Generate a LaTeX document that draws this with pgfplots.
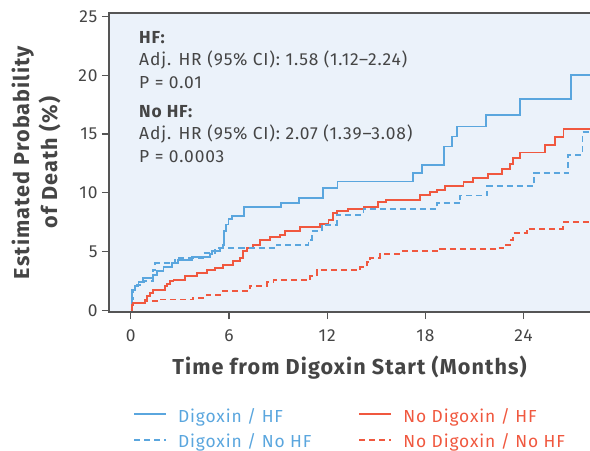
\documentclass[border=0pt]{standalone}
\usepackage{fontspec}
\setmainfont{Fira Sans}[LetterSpace=5]
\usepackage{pgfplots}
\pgfplotsset{compat=1.18}
\definecolor{dblue}{HTML}{5AA6DE}
\definecolor{dred}{HTML}{F0583F}
\definecolor{bgc}{HTML}{EBF2FA}
\definecolor{axc}{HTML}{555555}
\definecolor{txc}{HTML}{454545}
\newcommand\tfs{\fontsize{17.4bp}{20bp}\selectfont}
\newcommand\lfs{\fontsize{21.6bp}{28bp}\selectfont\bfseries}

\pgfplotstableread{
x y
0 0
0.10 1.76
0.26 2.04
0.47 2.38
0.77 2.72
1.38 3.03
1.59 3.31
2.00 3.66
2.50 4.02
2.91 4.31
3.73 4.56
4.85 4.75
4.95 5.05
5.46 5.30
5.66 5.55
5.70 6.75
5.82 7.30
5.97 7.75
6.17 8.05
6.92 8.77
9.16 9.15
10.29 9.55
11.73 10.40
12.63 10.96
17.27 11.67
17.82 12.38
19.14 13.94
19.65 14.79
19.92 15.64
21.69 16.63
23.79 17.96
26.92 20.03
28.2 20.03
}\digHF

\pgfplotstableread{
x y
0 0
0.06 0.48
0.16 0.62
0.88 0.91
0.98 1.19
1.18 1.47
1.38 1.76
2.10 2.04
2.20 2.27
2.40 2.46
2.61 2.61
3.32 2.95
4.03 3.17
4.64 3.46
5.15 3.60
5.66 3.88
6.27 4.16
6.68 4.45
6.88 5.01
7.09 5.30
7.49 5.58
7.90 6.01
8.51 6.23
9.12 6.43
9.43 6.71
10.35 7.05
11.57 7.37
12.08 7.71
12.38 8.27
12.59 8.41
13.30 8.64
14.22 8.78
15.13 9.18
15.60 9.41
17.68 9.83
18.29 10.03
18.70 10.25
19.21 10.59
20.33 10.88
20.90 11.25
21.85 11.61
22.67 12.01
23.18 12.46
23.38 12.95
23.79 13.43
25.32 14.08
25.93 14.73
26.44 15.44
28.2 15.44
}\nodigHF

\pgfplotstableread{
x y
0 0
0.06 0.91
0.16 1.76
0.37 2.18
0.80 2.50
1.34 3.46
1.49 4.02
2.71 4.31
2.81 4.45
4.44 4.87
5.15 5.30
8.92 5.58
10.86 6.01
11.06 6.71
11.67 7.28
12.59 8.13
14.22 8.61
18.70 9.12
20.12 9.77
21.79 10.54
24.64 11.67
26.74 13.23
27.60 15.16
28.2 15.16
}\dignoHF

\pgfplotstableread{
x y
0 0
0.06 0.40
0.16 0.57
0.88 0.76
1.59 0.91
3.83 1.05
4.64 1.33
5.46 1.61
7.09 1.87
7.29 2.10
8.31 2.38
8.72 2.55
10.96 2.89
11.36 3.40
14.01 3.68
14.42 4.08
14.62 4.45
15.23 4.82
16.56 5.01
18.90 5.21
22.36 5.30
22.77 5.58
23.18 6.01
23.38 6.57
24.20 6.94
26.40 7.48
28.2 7.48
}\nodignoHF

\begin{document}
\begin{tikzpicture}
\path[use as bounding box] (-109bp,-139bp) rectangle (481bp,312bp);
\begin{axis}[
  at={(0,0)}, anchor=south west,
  scale only axis, width=481bp, height=299bp,
  xmin=-1.33, xmax=28.06, ymin=-0.15, ymax=25.3,
  axis background/.style={fill=bgc},
  axis line style={draw=none},
  xtick={0,6,12,18,24}, ytick={0,5,10,15,20,25},
  tick align=outside, tick pos=left,
  major tick length=7bp,
  tick style={axc, line width=1.3bp},
  /pgf/number format/assume math mode=true,
  ticklabel style={font=\tfs, text=txc},
  xticklabel style={yshift=-7bp},
  yticklabel style={xshift=-1bp},
  xlabel={Time from Digoxin Start (Months)},
  ylabel={Estimated Probability\\of Death (\%)},
  xlabel style={font=\lfs, text=txc, at={(axis description cs:0.5,-0.2107)}, anchor=base},
  ylabel style={font=\lfs, text=txc, align=center, at={(axis description cs:-0.1518,0.5)}, anchor=center},
  legend columns=2,
  legend cell align=left,
  legend image code/.code={\draw[#1] (0bp,3.5bp) -- (32bp,3.5bp);},
  legend style={at={(axis description cs:0.0437,-0.3177)}, anchor=north west,
    draw=none, fill=none, font=\tfs, row sep=8bp,
    nodes={inner sep=0pt, text height=13bp, text depth=4.5bp},
    /tikz/every odd column/.append style={column sep=11bp},
    /tikz/every even column/.append style={column sep=47bp}},
]
\addplot[dblue, line width=1.9bp, const plot] table {\digHF};
\addlegendentry{\textcolor{dblue}{Digoxin / HF}}
\addplot[dred, line width=1.9bp, const plot] table {\nodigHF};
\addlegendentry{\textcolor{dred}{No Digoxin / HF}}
\addplot[dblue, line width=1.9bp, const plot, dash pattern=on 6bp off 4bp] table {\dignoHF};
\addlegendentry{\textcolor{dblue}{Digoxin / No HF}}
\addplot[dred, line width=1.9bp, const plot, dash pattern=on 6bp off 4bp] table {\nodignoHF};
\addlegendentry{\textcolor{dred}{No Digoxin / No HF}}
\end{axis}
\draw[axc, line width=1.5bp] (481bp,299bp) -- (0,299bp) -- (0,0) -- (481bp,0);
\begin{scope}[every node/.style={inner sep=0pt, anchor=base west, text=txc, font=\tfs}]
\node at (30bp,268bp) {\bfseries HF:};
\node at (30bp,246bp) {Adj. HR (95\% CI): 1.58 (1.12–2.24)};
\node at (30bp,223bp) {P = 0.01};
\node at (30bp,194bp) {\bfseries No HF:};
\node at (30bp,172bp) {Adj. HR (95\% CI): 2.07 (1.39–3.08)};
\node at (30bp,149bp) {P = 0.0003};
\end{scope}
\end{tikzpicture}
\end{document}
